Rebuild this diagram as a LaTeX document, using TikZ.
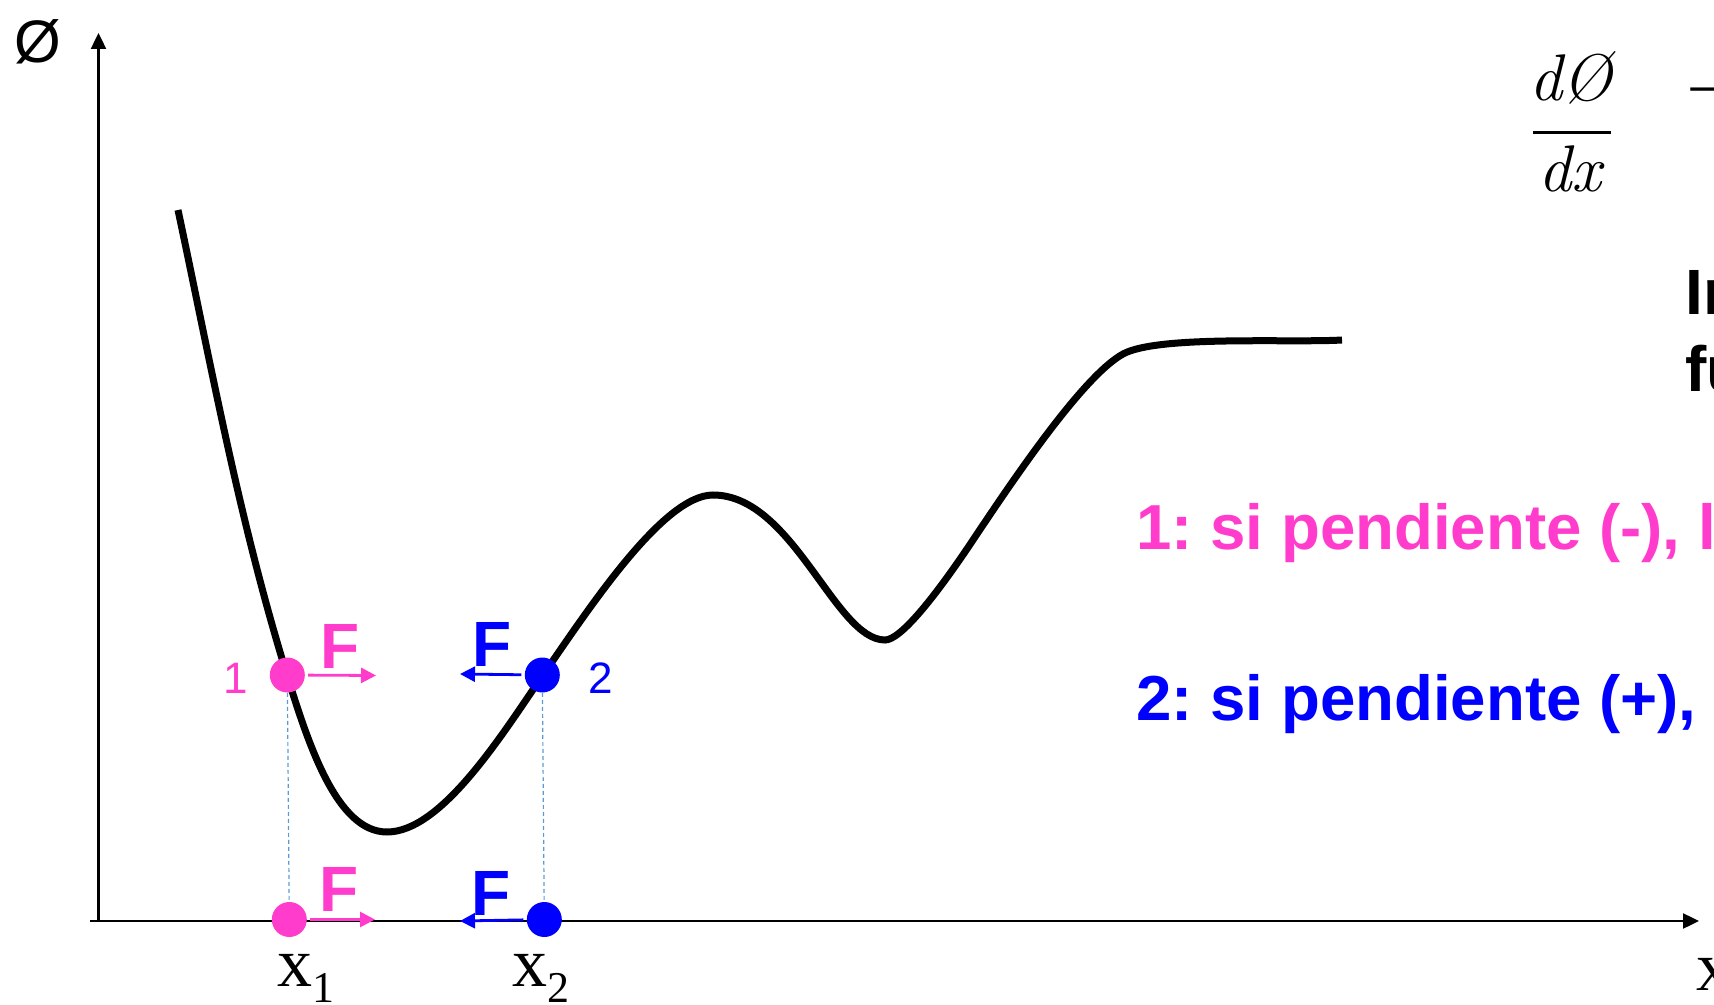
\documentclass[tikz,border=0pt]{standalone}
\usepackage{fontspec}
\setsansfont{Liberation Sans}
\newfontfamily\timesfont{Liberation Serif}
\usetikzlibrary{arrows.meta}
\definecolor{rosa}{HTML}{FF3CCC}
\definecolor{azul}{HTML}{0000FF}
\definecolor{celeste}{HTML}{5B9BD5}

\begin{document}
\begin{tikzpicture}[x=0.5pt,y=-0.5pt,
  eje/.style={line width=1.2pt, -{Triangle[length=8pt, width=7.5pt]}},
  fuerza/.style={line width=1.4pt, shorten <=1.5pt, -{Triangle[length=7.5pt, width=7.5pt]}},
  punto/.style={circle, fill=#1, inner sep=0pt, minimum size=17.5pt},
  proyeccion/.style={celeste, line width=0.6pt, dash pattern=on 2pt off 1.5pt},
  fuerte/.style={font=\sffamily\bfseries\fontsize{32}{38}\selectfont\frenchspacing, inner sep=0pt},
  frase/.style={font=\sffamily\bfseries\fontsize{31.8}{38}\selectfont\frenchspacing, anchor=base west, inner sep=0pt},
  etiqueta/.style={font=\sffamily\fontsize{22}{26}\selectfont, anchor=base, inner sep=0pt},
  abscisa/.style={font=\timesfont\fontsize{35}{40}\selectfont, anchor=base west, inner sep=0pt}]
\useasboundingbox (0,0) rectangle (1714,1005);
% ejes
\coordinate (ybot) at (98.5,921);
\coordinate (ytop) at (98.5,33);
\coordinate (xizq) at (90,921);
\coordinate (xder) at (1699,921);
\draw[eje] (ybot) -- (ytop);
\draw[eje] (xizq) -- (xder);
\node[font=\sffamily\fontsize{30}{34}\selectfont, anchor=base, inner sep=0pt] (phi) at (38,63) {Ø};
\node[abscisa] (xfin) at (1696,990) {x};
% curva
\draw[line width=3.5pt] (178,210)
  .. controls (211,365) and (239,520) .. (287,675)
  .. controls (308.7,745) and (337,832) .. (387,832)
  .. controls (442,832) and (503,733) .. (543,675)
  .. controls (588,610) and (663,495) .. (713,495)
  .. controls (793,495) and (835,640) .. (885,640)
  .. controls (900,640) and (933,600) .. (973,540)
  .. controls (1013,480) and (1083,376) .. (1123,354)
  .. controls (1158,335) and (1290,343) .. (1342,340);
% puntos
\node[punto=rosa] (p1) at (287.3,675) {};
\node[punto=azul] (p2) at (542.3,675) {};
\node[punto=rosa] (q1) at (289.3,919.5) {};
\node[punto=azul] (q2) at (544.3,919.5) {};
\draw[proyeccion] (p1) -- (q1);
\draw[proyeccion] (p2) -- (q2);
\coordinate (f1) at (376,675.5);
\coordinate (f2) at (460,674);
\coordinate (g1) at (375,919.5);
\coordinate (g2) at (460,921);
\draw[fuerza, rosa] (p1) -- (f1);
\draw[fuerza, azul] (p2) -- (f2);
\draw[fuerza, rosa] (q1) -- (g1);
\draw[fuerza, azul] (q2) -- (g2);
\node[fuerte, rosa, anchor=base] (F1) at (340,668) {F};
\node[fuerte, azul, anchor=base] (F2) at (491.7,666.7) {F};
\node[fuerte, rosa, anchor=base] (G1) at (339.5,911.7) {F};
\node[fuerte, azul, anchor=base] (G2) at (491,915) {F};
\node[etiqueta, rosa] (n1) at (236,693.3) {1};
\node[etiqueta, azul] (n2) at (600.7,693.3) {2};
\node[abscisa] (x1) at (277,986) {x\raisebox{-8pt}{\fontsize{22}{22}\selectfont 1}};
\node[abscisa] (x2) at (512,986) {x\raisebox{-8pt}{\fontsize{22}{22}\selectfont 2}};
% derivada y textos
\node[font=\itshape\fontsize{33}{38}\selectfont, anchor=base, inner sep=0pt] (num) at (1571,101) {dØ};
\node[font=\itshape\fontsize{33}{38}\selectfont, anchor=base, inner sep=0pt] (den) at (1570,191.7) {dx};
\draw[line width=1.5pt] (1533,132.3) -- (1610.7,132.3);
\node[font=\timesfont\fontsize{33}{38}\selectfont, anchor=base west, inner sep=0pt] (menos) at (1687,112) {−};
\node[fuerte, anchor=base west] (t1) at (1685,315) {In};
\node[fuerte, anchor=base west] (t2) at (1685,391.7) {fu};
\node[frase, rosa] (r1) at (1136,550) {1: si pendiente (-), l};
\node[frase, azul] (r2) at (1136,720) {2: si pendiente (+),};
\end{tikzpicture}
\end{document}
